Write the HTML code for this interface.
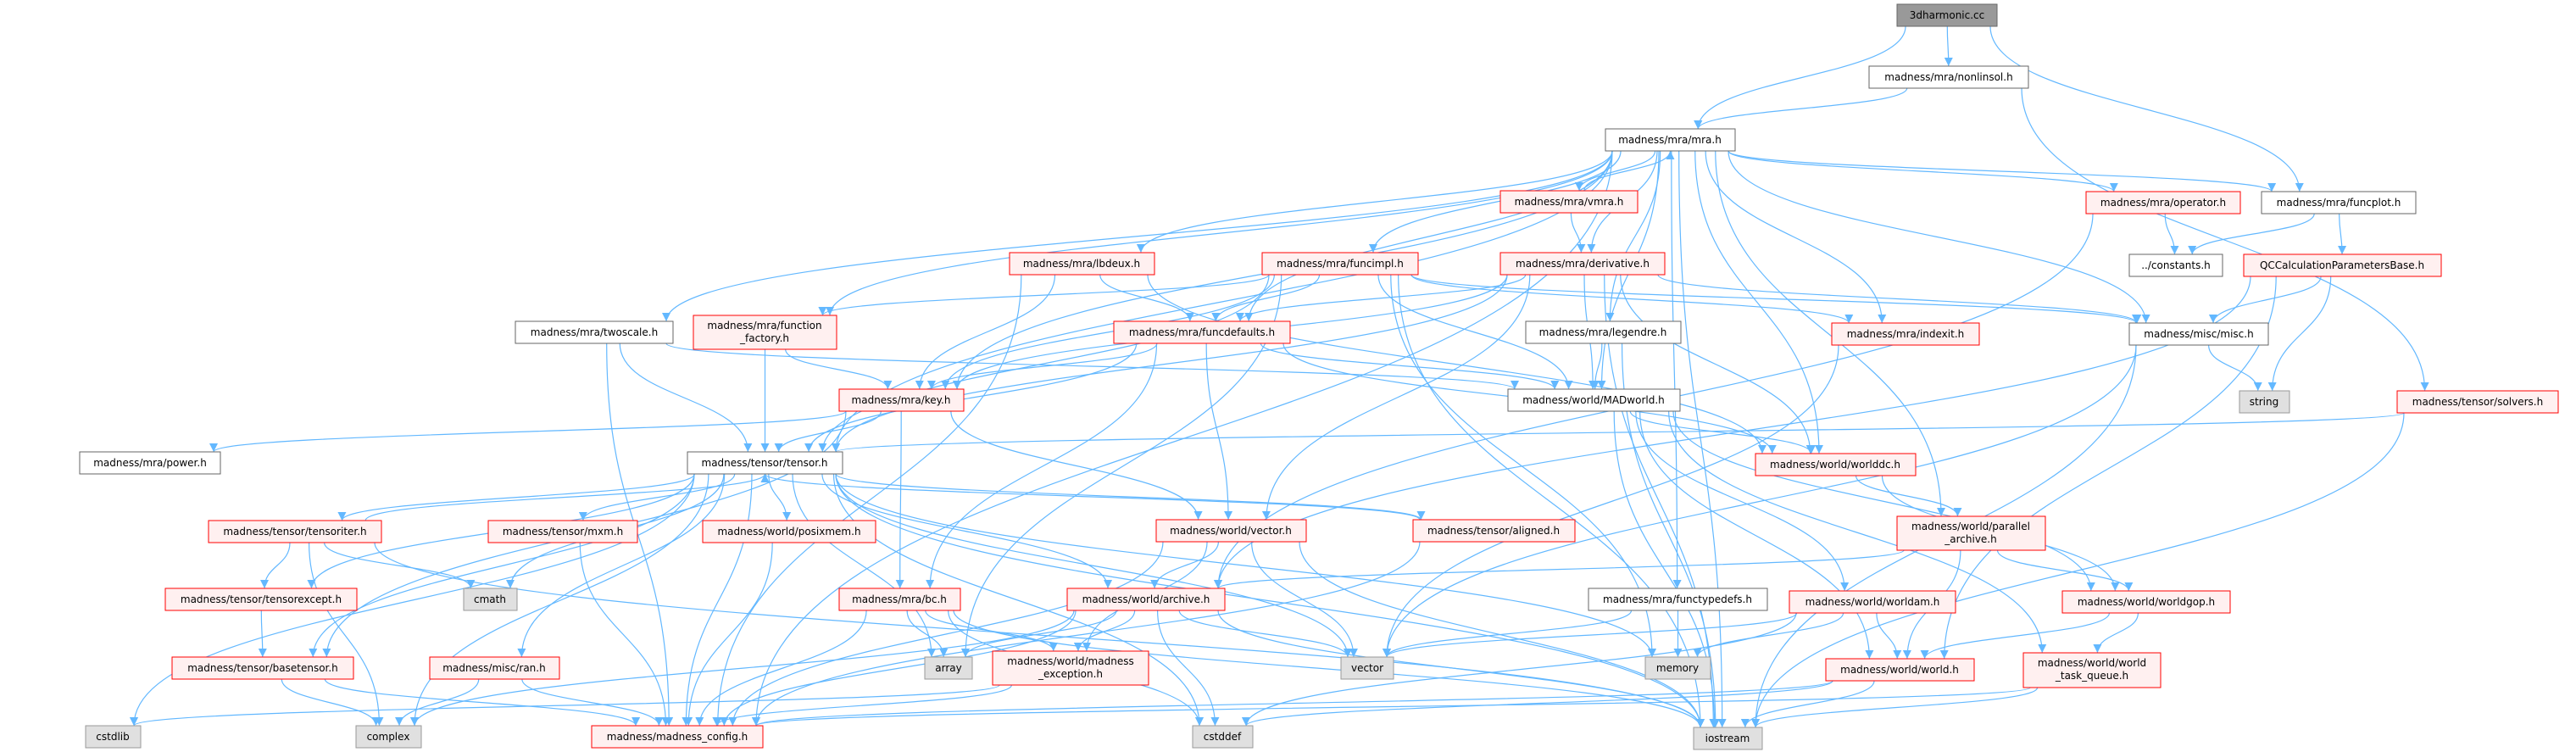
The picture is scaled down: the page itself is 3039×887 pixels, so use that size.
<!DOCTYPE html>
<html><head><meta charset="utf-8">
<style>
html,body{margin:0;padding:0;background:#fff;}
svg{display:block;}
text{font-family:"DejaVu Sans","Liberation Sans",sans-serif;font-size:12px;fill:#000;}
</style></head>
<body>
<svg id="g" xmlns="http://www.w3.org/2000/svg" width="3039" height="887" viewBox="0 0 3039 887">
<defs>
<marker id="ah" markerWidth="11" markerHeight="10" refX="10" refY="5" orient="auto" markerUnits="userSpaceOnUse">
<path d="M0,0 L10,5 L0,10 z" fill="#63b8ff"/>
</marker>
</defs>
<g id="edges" fill="none" stroke="#63b8ff" stroke-width="1.2"></g>
<g id="nodes">
<rect x="2238" y="5" width="118" height="26" fill="#999" stroke="#666"/><text x="2297" y="22" text-anchor="middle">3dharmonic.cc</text>
<rect x="2205" y="78" width="188" height="26" fill="#fff" stroke="#666"/><text x="2299" y="95" text-anchor="middle">madness/mra/nonlinsol.h</text>
<rect x="1894" y="152" width="153" height="26" fill="#fff" stroke="#666"/><text x="1970" y="169" text-anchor="middle">madness/mra/mra.h</text>
<rect x="2461" y="226" width="182" height="26" fill="#fff0f0" stroke="#f00"/><text x="2552" y="243" text-anchor="middle">madness/mra/operator.h</text>
<rect x="2668" y="226" width="182" height="26" fill="#fff" stroke="#666"/><text x="2759" y="243" text-anchor="middle">madness/mra/funcplot.h</text>
<rect x="1770" y="225" width="162" height="26" fill="#fff0f0" stroke="#f00"/><text x="1851" y="242" text-anchor="middle">madness/mra/vmra.h</text>
<rect x="1191" y="298" width="171" height="26" fill="#fff0f0" stroke="#f00"/><text x="1276" y="315" text-anchor="middle">madness/mra/lbdeux.h</text>
<rect x="1489" y="298" width="184" height="26" fill="#fff0f0" stroke="#f00"/><text x="1581" y="315" text-anchor="middle">madness/mra/funcimpl.h</text>
<rect x="1770" y="298" width="194" height="26" fill="#fff0f0" stroke="#f00"/><text x="1867" y="315" text-anchor="middle">madness/mra/derivative.h</text>
<rect x="2512" y="300" width="110" height="26" fill="#fff" stroke="#666"/><text x="2567" y="317" text-anchor="middle">../constants.h</text>
<rect x="2647" y="300" width="233" height="26" fill="#fff0f0" stroke="#f00"/><text x="2763" y="317" text-anchor="middle">QCCalculationParametersBase.h</text>
<rect x="608" y="379" width="186" height="26" fill="#fff" stroke="#666"/><text x="701" y="396" text-anchor="middle">madness/mra/twoscale.h</text>
<rect x="818" y="372" width="169" height="40" fill="#fff0f0" stroke="#f00"/><text x="902" y="388" text-anchor="middle">madness/mra/function</text><text x="902" y="403" text-anchor="middle">_factory.h</text>
<rect x="1314" y="379" width="208" height="26" fill="#fff0f0" stroke="#f00"/><text x="1418" y="396" text-anchor="middle">madness/mra/funcdefaults.h</text>
<rect x="1800" y="379" width="183" height="26" fill="#fff" stroke="#666"/><text x="1891" y="396" text-anchor="middle">madness/mra/legendre.h</text>
<rect x="2161" y="381" width="174" height="26" fill="#fff0f0" stroke="#f00"/><text x="2248" y="398" text-anchor="middle">madness/mra/indexit.h</text>
<rect x="2512" y="381" width="164" height="26" fill="#fff" stroke="#666"/><text x="2594" y="398" text-anchor="middle">madness/misc/misc.h</text>
<rect x="990" y="459" width="147" height="26" fill="#fff0f0" stroke="#f00"/><text x="1063" y="476" text-anchor="middle">madness/mra/key.h</text>
<rect x="1779" y="459" width="203" height="26" fill="#fff" stroke="#666"/><text x="1880" y="476" text-anchor="middle">madness/world/MADworld.h</text>
<rect x="2642" y="461" width="59" height="26" fill="#e0e0e0" stroke="#999"/><text x="2671" y="478" text-anchor="middle">string</text>
<rect x="2828" y="461" width="190" height="26" fill="#fff0f0" stroke="#f00"/><text x="2923" y="478" text-anchor="middle">madness/tensor/solvers.h</text>
<rect x="94" y="533" width="166" height="26" fill="#fff" stroke="#666"/><text x="177" y="550" text-anchor="middle">madness/mra/power.h</text>
<rect x="811" y="533" width="183" height="26" fill="#fff" stroke="#666"/><text x="902" y="550" text-anchor="middle">madness/tensor/tensor.h</text>
<rect x="2071" y="535" width="189" height="26" fill="#fff0f0" stroke="#f00"/><text x="2165" y="552" text-anchor="middle">madness/world/worlddc.h</text>
<rect x="246" y="614" width="204" height="26" fill="#fff0f0" stroke="#f00"/><text x="348" y="631" text-anchor="middle">madness/tensor/tensoriter.h</text>
<rect x="576" y="614" width="176" height="26" fill="#fff0f0" stroke="#f00"/><text x="664" y="631" text-anchor="middle">madness/tensor/mxm.h</text>
<rect x="829" y="614" width="204" height="26" fill="#fff0f0" stroke="#f00"/><text x="931" y="631" text-anchor="middle">madness/world/posixmem.h</text>
<rect x="1364" y="613" width="177" height="26" fill="#fff0f0" stroke="#f00"/><text x="1452" y="630" text-anchor="middle">madness/world/vector.h</text>
<rect x="1667" y="613" width="191" height="26" fill="#fff0f0" stroke="#f00"/><text x="1762" y="630" text-anchor="middle">madness/tensor/aligned.h</text>
<rect x="2238" y="609" width="175" height="40" fill="#fff0f0" stroke="#f00"/><text x="2325" y="625" text-anchor="middle">madness/world/parallel</text><text x="2325" y="640" text-anchor="middle">_archive.h</text>
<rect x="195" y="694" width="226" height="26" fill="#fff0f0" stroke="#f00"/><text x="308" y="711" text-anchor="middle">madness/tensor/tensorexcept.h</text>
<rect x="547" y="694" width="63" height="26" fill="#e0e0e0" stroke="#999"/><text x="578" y="711" text-anchor="middle">cmath</text>
<rect x="990" y="694" width="143" height="26" fill="#fff0f0" stroke="#f00"/><text x="1061" y="711" text-anchor="middle">madness/mra/bc.h</text>
<rect x="1259" y="694" width="186" height="26" fill="#fff0f0" stroke="#f00"/><text x="1352" y="711" text-anchor="middle">madness/world/archive.h</text>
<rect x="1874" y="694" width="211" height="26" fill="#fff" stroke="#666"/><text x="1979" y="711" text-anchor="middle">madness/mra/functypedefs.h</text>
<rect x="2111" y="697" width="196" height="26" fill="#fff0f0" stroke="#f00"/><text x="2209" y="714" text-anchor="middle">madness/world/worldam.h</text>
<rect x="2433" y="697" width="198" height="26" fill="#fff0f0" stroke="#f00"/><text x="2532" y="714" text-anchor="middle">madness/world/worldgop.h</text>
<rect x="203" y="775" width="214" height="26" fill="#fff0f0" stroke="#f00"/><text x="310" y="792" text-anchor="middle">madness/tensor/basetensor.h</text>
<rect x="507" y="775" width="153" height="26" fill="#fff0f0" stroke="#f00"/><text x="583" y="792" text-anchor="middle">madness/misc/ran.h</text>
<rect x="1091" y="775" width="56" height="26" fill="#e0e0e0" stroke="#999"/><text x="1119" y="792" text-anchor="middle">array</text>
<rect x="1171" y="768" width="184" height="40" fill="#fff0f0" stroke="#f00"/><text x="1263" y="784" text-anchor="middle">madness/world/madness</text><text x="1263" y="799" text-anchor="middle">_exception.h</text>
<rect x="1582" y="775" width="62" height="26" fill="#e0e0e0" stroke="#999"/><text x="1613" y="792" text-anchor="middle">vector</text>
<rect x="1941" y="775" width="77" height="26" fill="#e0e0e0" stroke="#999"/><text x="1979" y="792" text-anchor="middle">memory</text>
<rect x="2154" y="777" width="175" height="26" fill="#fff0f0" stroke="#f00"/><text x="2241" y="794" text-anchor="middle">madness/world/world.h</text>
<rect x="2387" y="770" width="162" height="41" fill="#fff0f0" stroke="#f00"/><text x="2468" y="786" text-anchor="middle">madness/world/world</text><text x="2468" y="801" text-anchor="middle">_task_queue.h</text>
<rect x="101" y="856" width="65" height="26" fill="#e0e0e0" stroke="#999"/><text x="133" y="873" text-anchor="middle">cstdlib</text>
<rect x="420" y="856" width="77" height="26" fill="#e0e0e0" stroke="#999"/><text x="458" y="873" text-anchor="middle">complex</text>
<rect x="698" y="856" width="202" height="26" fill="#fff0f0" stroke="#f00"/><text x="799" y="873" text-anchor="middle">madness/madness_config.h</text>
<rect x="1407" y="856" width="71" height="26" fill="#e0e0e0" stroke="#999"/><text x="1442" y="873" text-anchor="middle">cstddef</text>
<rect x="1998" y="858" width="81" height="26" fill="#e0e0e0" stroke="#999"/><text x="2038" y="875" text-anchor="middle">iostream</text>
</g>
</svg>
<script>
var N={
root:[2238,5,118,26],nonlin:[2205,78,188,26],mra:[1894,152,153,26],oper:[2461,226,182,26],fplot:[2668,226,182,26],
vmra:[1770,225,162,26],lbdeux:[1191,298,171,26],fimpl:[1489,298,184,26],deriv:[1770,298,194,26],consts:[2512,300,110,26],
qcc:[2647,300,233,26],twos:[608,379,186,26],ffac:[818,372,169,40],fdef:[1314,379,208,26],leg:[1800,379,183,26],
idx:[2161,381,174,26],misc:[2512,381,164,26],key:[990,459,147,26],madw:[1779,459,203,26],str:[2642,461,59,26],
solv:[2828,461,190,26],power:[94,533,166,26],tensor:[811,533,183,26],wdc:[2071,535,189,26],titer:[246,614,204,26],
mxm:[576,614,176,26],posix:[829,614,204,26],vech:[1364,613,177,26],align:[1667,613,191,26],par:[2238,609,175,40],
texc:[195,694,226,26],cmath:[547,694,63,26],bc:[990,694,143,26],arch:[1259,694,186,26],ftd:[1874,694,211,26],
wam:[2111,697,196,26],wgop:[2433,697,198,26],btens:[203,775,214,26],ran:[507,775,153,26],array:[1091,775,56,26],
mexc:[1171,768,184,40],vector:[1582,775,62,26],memory:[1941,775,77,26],world:[2154,777,175,26],tq:[2387,770,162,41],
cstdlib:[101,856,65,26],complex:[420,856,77,26],config:[698,856,202,26],cstddef:[1407,856,71,26],iostream:[1998,858,81,26]};
var E=[
"root mra","root nonlin","root fplot","nonlin mra","nonlin solv",
"mra tensor","mra twos","mra ffac","mra key","mra lbdeux","mra fimpl","mra fdef","mra vmra","mra deriv","mra leg","mra madw","mra wdc","mra idx","mra oper","mra fplot","mra misc","mra par","mra ftd","mra iostream","mra config",
"vmra mra","vmra deriv",
"deriv fdef","deriv key","deriv tensor","deriv madw","deriv wdc","deriv misc","deriv iostream","deriv vech",
"fimpl fdef","fimpl key","fimpl ffac","fimpl tensor","fimpl idx","fimpl misc","fimpl madw","fimpl array","fimpl iostream","fimpl memory",
"lbdeux fdef","lbdeux key","lbdeux wdc","lbdeux config",
"fdef key","fdef tensor","fdef madw","fdef vech","fdef bc","fdef wdc",
"ffac tensor","ffac key","twos tensor","twos madw","twos config",
"leg madw","leg iostream","key power","key tensor","key vech","key bc","key btens",
"madw wdc","madw wam","madw world","madw tq","madw iostream","madw wgop",
"idx vector","oper consts","oper arch","fplot consts","fplot qcc",
"qcc misc","qcc str","qcc arch","qcc world","misc str","misc iostream","misc vector",
"solv tensor","solv iostream",
"tensor titer","tensor mxm","tensor posix","tensor cmath","tensor ran","tensor texc","tensor btens","tensor align","tensor arch","tensor vector","tensor array","tensor memory","tensor config","tensor cstdlib","tensor complex","tensor cstddef","tensor iostream",
"titer tensor","titer texc","titer cmath","titer complex","titer iostream","texc btens","btens complex","btens config","ran complex","ran config","mxm config","posix config",
"vech arch","vech mexc","vech vector","vech config","vech iostream","align tensor","align config",
"bc array","bc mexc","bc config","bc cstddef","bc iostream",
"arch array","arch mexc","arch vector","arch cstddef","arch iostream","arch complex","arch config",
"ftd vector","ftd memory","wdc par","wdc wgop","par arch","par wgop","par world",
"wam vector","wam memory","wam world","wam cstddef","wgop world","wgop tq",
"world iostream","world config","world cstddef","tq iostream","tq config","mexc config","mexc cstdlib"];
var g=document.getElementById('edges'),s='';
function cl(v,a,b){return Math.max(a,Math.min(b,v));}
E.forEach(function(e){var p=e.split(' '),a=N[p[0]],b=N[p[1]];if(!a||!b)return;
var acx=a[0]+a[2]/2,bcx=b[0]+b[2]/2,d;
if(b[1]>a[1]+a[3]-5){var sx=cl(acx+(bcx-acx)*0.15,a[0]+8,a[0]+a[2]-8),sy=a[1]+a[3],tx=cl(bcx+(acx-bcx)*0.1,b[0]+8,b[0]+b[2]-8),ty=b[1];var m=(sy+ty)/2;
d='M'+sx+','+sy+' C'+sx+','+m+' '+tx+','+m+' '+tx+','+ty;}
else if(b[1]+b[3]<a[1]+5){var sx=cl(acx+(bcx-acx)*0.15,a[0]+8,a[0]+a[2]-8),sy=a[1],tx=cl(bcx,b[0]+8,b[0]+b[2]-8),ty=b[1]+b[3];var m=(sy+ty)/2;
d='M'+sx+','+sy+' C'+sx+','+m+' '+tx+','+m+' '+tx+','+ty;}
else{var sy=a[1]+a[3]/2,ty=b[1]+b[3]/2,sx,tx;if(bcx>acx){sx=a[0]+a[2];tx=b[0];}else{sx=a[0];tx=b[0]+b[2];}
d='M'+sx+','+sy+' L'+tx+','+ty;}
s+='<path d="'+d+'" marker-end="url(#ah)"/>';});
g.innerHTML=s;
</script>
</body></html>
